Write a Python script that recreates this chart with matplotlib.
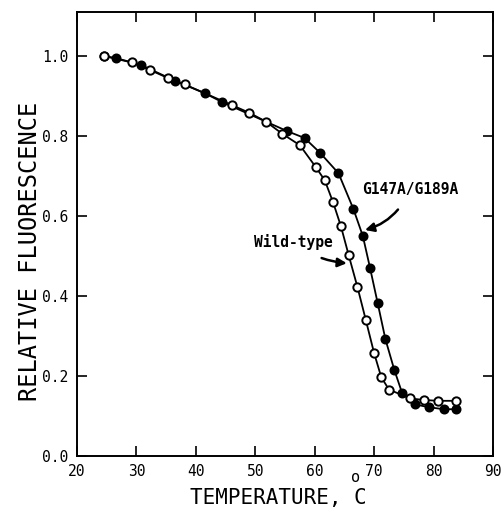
import matplotlib
matplotlib.use("Agg")
import matplotlib.pyplot as plt

plt.rcParams['font.family'] = ['DejaVu Sans Mono']

# Wild-type (open circles)
wt_temp = [24.5, 29.2, 32.3, 35.3, 38.1, 46.1, 49.0, 51.8, 54.5, 57.5, 60.2, 61.7,
           63.1, 64.4, 65.7, 67.2, 68.6, 70.0, 71.2, 72.5, 76.1, 78.4, 80.8, 83.7]
wt_fluor = [1.0, 0.984, 0.965, 0.945, 0.929, 0.877, 0.858, 0.836, 0.806, 0.777, 0.722, 0.689,
            0.634, 0.575, 0.503, 0.422, 0.340, 0.257, 0.197, 0.166, 0.144, 0.140, 0.138, 0.138]

# G147A/G189A mutant (filled circles)
mut_temp = [24.5, 26.5, 30.7, 36.5, 41.5, 44.4, 55.4, 58.3, 60.9, 64.0, 66.5, 68.1,
            69.3, 70.6, 71.9, 73.4, 74.7, 76.9, 79.2, 81.7, 83.8]
mut_fluor = [1.0, 0.995, 0.978, 0.938, 0.907, 0.885, 0.812, 0.795, 0.758, 0.707, 0.618, 0.550,
             0.471, 0.382, 0.292, 0.215, 0.158, 0.129, 0.122, 0.117, 0.117]

x_ticks = [20, 30, 40, 50, 60, 70, 80, 90]
y_ticks = [0.0, 0.2, 0.4, 0.6, 0.8, 1.0]
y_tick_labels = ["0.0", "0.2", "0.4", "0.6", "0.8", "1.0"]

fig = plt.figure(figsize=(5.01, 5.11), dpi=100)
ax = fig.add_axes([0.1537, 0.1076, 0.8303, 0.8689])

ax.plot(mut_temp, mut_fluor, '-o', color='black', lw=1.3, ms=6.0,
        mfc='black', mec='black', mew=1.2, zorder=3)
ax.plot(wt_temp, wt_fluor, '-o', color='black', lw=1.3, ms=6.0,
        mfc='white', mec='black', mew=1.4, zorder=4)

ax.set_xlim(20, 90)
ax.set_ylim(0, 1.11)
ax.set_xticks(x_ticks)
ax.set_yticks(y_ticks)
ax.set_yticklabels(y_tick_labels)
ax.tick_params(direction='in', length=7, width=1.2, top=True, right=True,
               labelsize=10.5, pad=6)
for s in ax.spines.values():
    s.set_linewidth(1.4)

# axis titles
ax.set_xlabel("TEMPERATURE, C", fontsize=15)
ax.xaxis.set_label_coords(0.483, -0.072)
fig.text(356 / 501, 1 - 478 / 511, "o", fontsize=11, ha='center', va='center')
fig.text(30 / 501, 1 - 251 / 511, "RELATIVE FLUORESCENCE", fontsize=17,
         rotation=90, ha='center', va='center')

ax.annotate("Wild-type", xy=(65.4, 0.482), xytext=(56.35, 0.534),
            fontsize=10.5, fontweight='bold', ha='center', va='center',
            arrowprops=dict(arrowstyle='-|>,head_length=0.5,head_width=0.25',
                            color='black', lw=1.8,
                            connectionstyle='arc3,rad=0.15',
                            shrinkA=9, shrinkB=0))
ax.annotate("G147A/G189A", xy=(68.46, 0.565), xytext=(76.03, 0.6675),
            fontsize=10.5, fontweight='bold', ha='center', va='center',
            arrowprops=dict(arrowstyle='-|>,head_length=0.5,head_width=0.25',
                            color='black', lw=1.8,
                            connectionstyle='arc3,rad=-0.25',
                            shrinkA=9, shrinkB=0))

fig.savefig("out.png", dpi=100)
